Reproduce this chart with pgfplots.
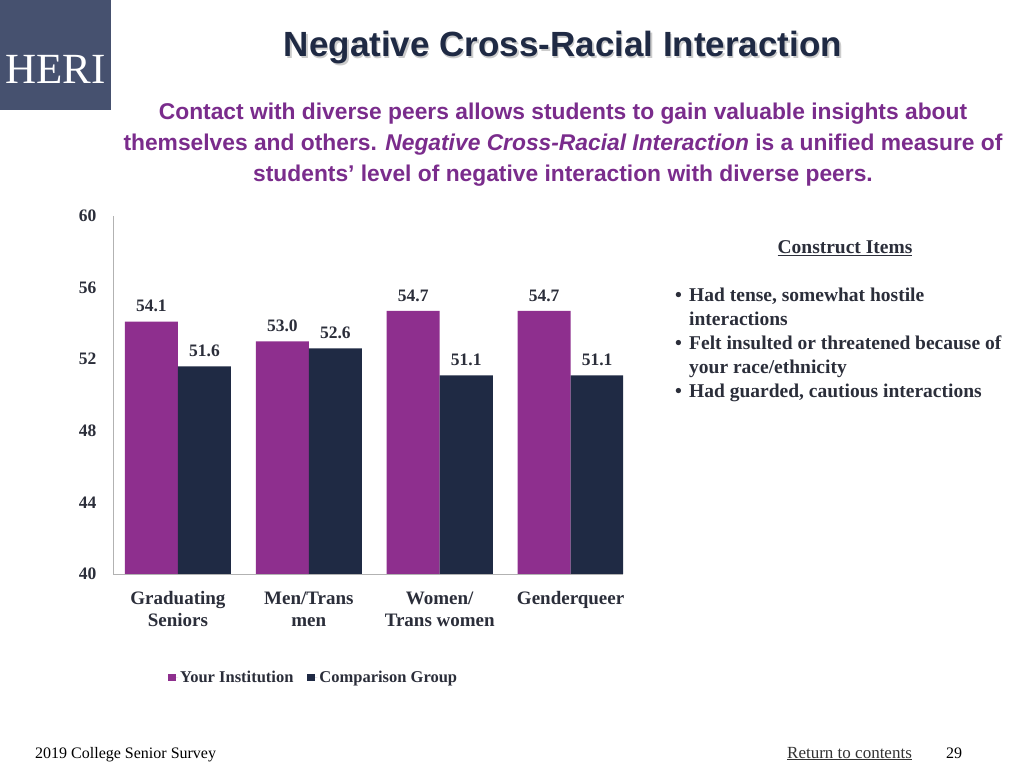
\documentclass[border=0pt]{standalone}
\usepackage{pgfplots}
\pgfplotsset{compat=1.18}
\usepackage{fontspec}
\setmainfont{Liberation Serif}
\newfontfamily\sansf{Liberation Sans}
\definecolor{purp}{HTML}{8E2F8E}
\definecolor{navy}{HTML}{1F2A44}
\definecolor{logo}{HTML}{46516F}
\definecolor{txt}{HTML}{2B2E3A}
\definecolor{sub}{HTML}{7A2C8C}
\definecolor{ttl}{HTML}{1F2A44}
\begin{document}
\begin{tikzpicture}[x=1pt,y=1pt]
\path[fill=white] (0,0) rectangle (1024,768);
% logo
\fill[logo] (0,658) rectangle (111,768);
\node[white, font=\fontsize{43}{43}\selectfont] at (55.5,699) {HERI};
% title
\node[font=\sansf\bfseries\fontsize{35}{35}\selectfont, text=gray!40] at (564.5,718.5) {Negative Cross-Racial Interaction};
\node[font=\sansf\bfseries\fontsize{35}{35}\selectfont, text=ttl] at (563,720) {Negative Cross-Racial Interaction};
% subtitle
\node[font=\sansf\bfseries\fontsize{22.8}{31}\selectfont, text=sub, align=center] at (563,623)
 {Contact with diverse peers allows students to gain valuable insights about\\
  themselves and others. \textit{Negative Cross-Racial Interaction} is a unified measure of\\
  students’ level of negative interaction with diverse peers.};
% construct items
\tikzset{ci/.style={font=\bfseries\fontsize{19.5}{20}\selectfont, text=txt, anchor=base west, inner sep=0pt}}
\node[font=\bfseries\fontsize{19.5}{20}\selectfont, text=txt, anchor=base] at (845,514) {\underline{Construct Items}};
\node[ci] at (675,466) {\textbullet};
\node[ci] at (675,418) {\textbullet};
\node[ci] at (675,370) {\textbullet};
\node[ci] at (689,466) {Had tense, somewhat hostile};
\node[ci] at (689,442) {interactions};
\node[ci] at (689,418) {Felt insulted or threatened because of};
\node[ci] at (689,394) {your race/ethnicity};
\node[ci] at (689,370) {Had guarded, cautious interactions};
% footer
\node[font=\fontsize{16}{16}\selectfont, text=black, anchor=base west, inner sep=0pt] at (35,10) {2019 College Senior Survey};
\node[font=\fontsize{17}{17}\selectfont, text=black!80, anchor=base west, inner sep=0pt] at (787,10) {\underline{Return to contents}};
\node[font=\fontsize{16}{16}\selectfont, text=black, anchor=base west, inner sep=0pt] at (946,10) {29};
\begin{axis}[
  at={(113pt,194pt)}, anchor=south west, scale only axis,
  width=510pt, height=358pt,
  ymin=40, ymax=60, ytick={40,44,48,52,56,60},
  xmin=-0.496, xmax=3.4,
  xtick={0,1,2,3},
  xticklabels={{Graduating\\Seniors},{Men/Trans\\men},{Women/\\Trans women},{Genderqueer}},
  xticklabel style={align=center, font=\bfseries\fontsize{19}{22}\selectfont, text=txt, yshift=-10pt},
  yticklabel style={font=\bfseries\fontsize{17.5}{17.5}\selectfont, text=txt, xshift=-13pt},
  /pgf/number format/assume math mode=true,
  axis x line*=bottom, axis y line*=left,
  axis line style={gray!60, -},
  tick style={draw=none},
  ybar, bar width=0.405,
  nodes near coords={\pgfmathprintnumber[fixed,fixed zerofill,precision=1]{\pgfplotspointmeta}},
  nodes near coords style={font=\bfseries\fontsize{17.5}{17.5}\selectfont, text=txt, anchor=south, yshift=6pt},
  legend style={at={(0.102,-0.288)}, anchor=west, draw=none, fill=none,
     font=\bfseries\fontsize{16.5}{16.5}\selectfont, text=txt, legend columns=2,
     /tikz/every even column/.append style={column sep=12pt}},
  legend image code/.code={\fill[#1] (0pt,-3.5pt) rectangle (7.5pt,3.5pt); \path (0pt,0pt) -- (10pt,0pt);},
]
\addplot[fill=purp, draw=none, bar shift=-0.2025] coordinates {(0,54.1) (1,53.0) (2,54.7) (3,54.7)};
\addplot[fill=navy, draw=none, bar shift=0.2025] coordinates {(0,51.6) (1,52.6) (2,51.1) (3,51.1)};
\legend{Your Institution, Comparison Group}
\end{axis}
\end{tikzpicture}
\end{document}
